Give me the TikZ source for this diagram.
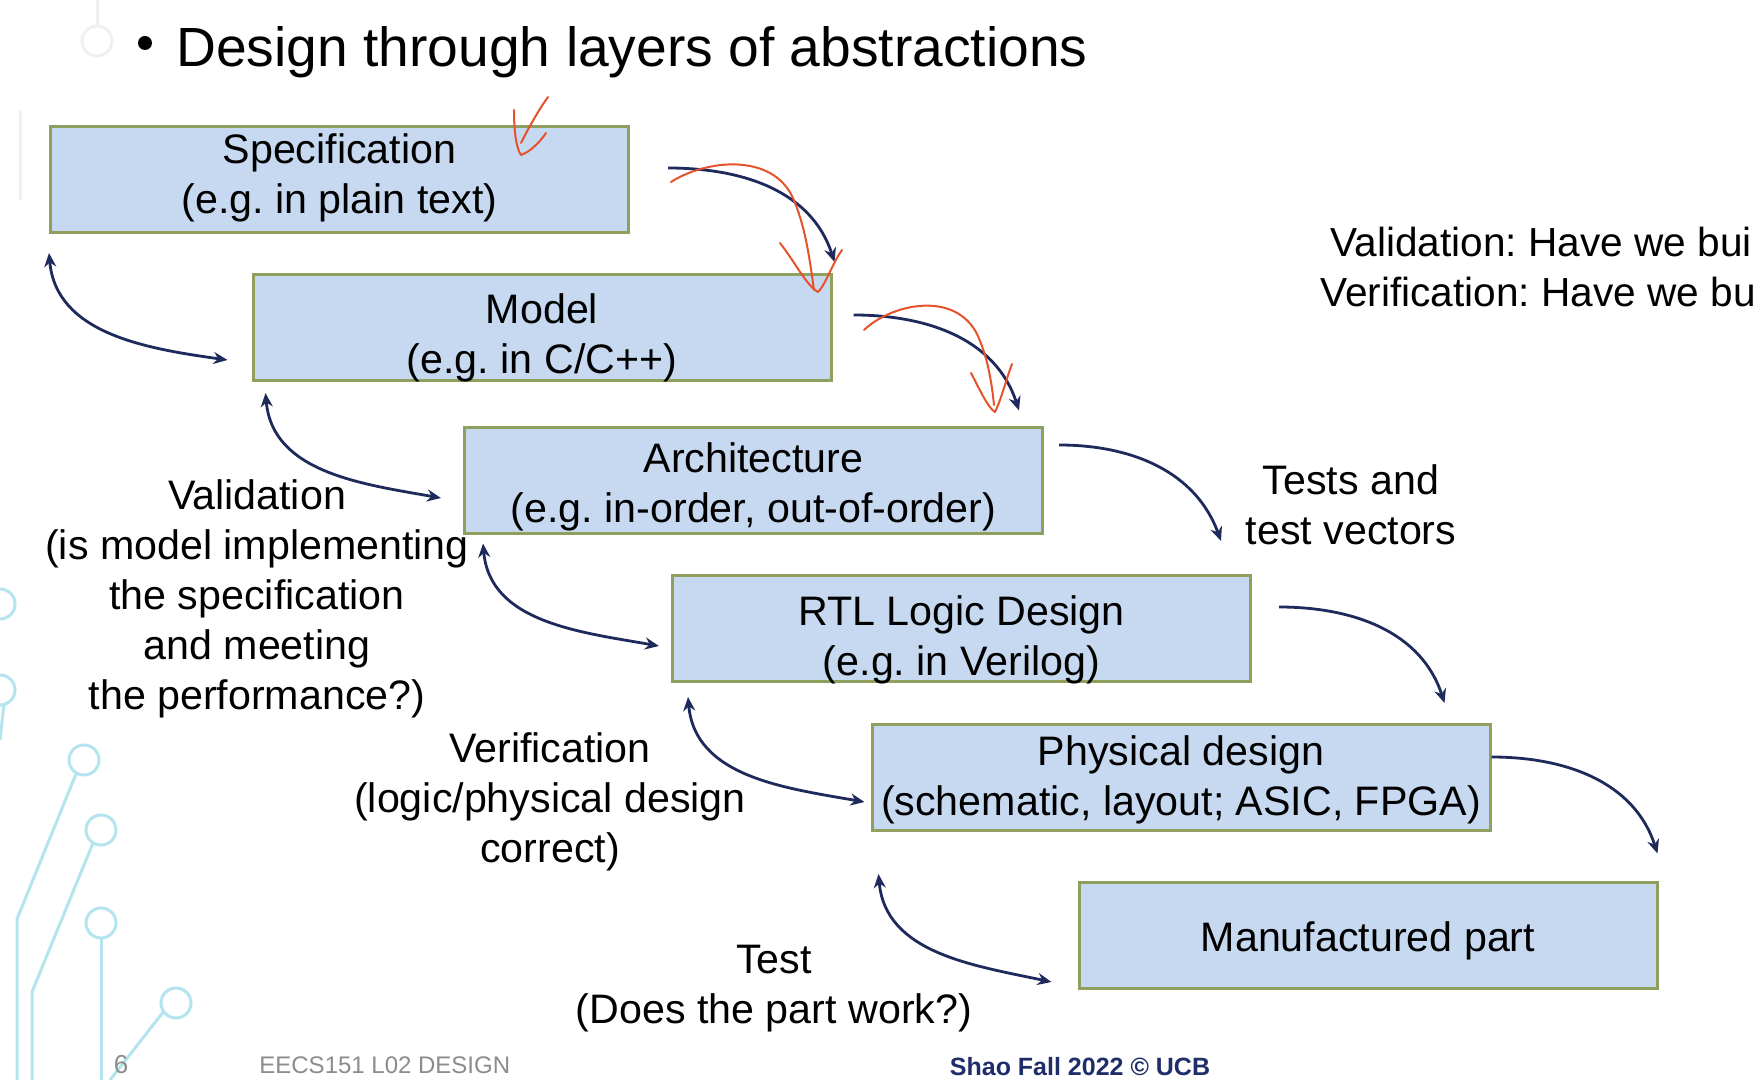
\documentclass[tikz,border=0pt]{standalone}
\usepackage{fontspec}
\setmainfont{Liberation Sans}
\usetikzlibrary{arrows.meta,calc}
\definecolor{boxfill}{HTML}{C6D9F1}
\definecolor{boxline}{HTML}{8E9F5E}
\definecolor{navy}{HTML}{1F2A5C}
\definecolor{deco}{HTML}{B4E4EE}
\definecolor{redink}{HTML}{E5522B}
\definecolor{footgray}{HTML}{8C8C8C}
\definecolor{footnavy}{HTML}{1F2D6B}
\frenchspacing
\begin{document}
\frenchspacing
\begin{tikzpicture}[x=0.5pt,y=-0.5pt,
  stagebox/.style={draw=boxline, line width=1.5pt, fill=boxfill, minimum width=289pt, minimum height=53pt, inner sep=0pt},
  lbl/.style={align=center, inner sep=0pt, font=\fontsize{20.6}{25}\selectfont},
  flow/.style={draw=navy, line width=1.4pt, -{Stealth[length=7pt,width=6pt]}},
  both/.style={draw=navy, line width=1.4pt, {Stealth[length=7pt,width=6pt]}-{Stealth[length=7pt,width=6pt]}},
  ink/.style={draw=redink, line width=1pt, line cap=round, line join=round},
  decoline/.style={draw=deco, line width=1.5pt},
  faint/.style={draw=black!6, line width=1.5pt}]
\useasboundingbox (0,0) rectangle (1753,1080);
\clip (0,0) rectangle (1753,1080);
\fill[white] (0,0) rectangle (1753,1080);

% background decoration
\draw[faint] (97,41) circle[radius=7.5pt];
\draw[faint] (97,0) -- (97,26);
\draw[faint] (20,110) -- (20,200);
\draw[decoline] (84,760) circle[radius=7.5pt];
\draw[decoline] (101,830) circle[radius=7.5pt];
\draw[decoline] (101,923) circle[radius=7.5pt];
\draw[decoline] (176,1003) circle[radius=7.5pt];
\draw[decoline] (0,604) circle[radius=7.5pt];
\draw[decoline] (0,690) circle[radius=7.5pt];
\draw[decoline] (76,774) -- (17,919) -- (17,1080);
\draw[decoline] (93,843) -- (32,992) -- (32,1080);
\draw[decoline] (101,938) -- (101,1080);
\draw[decoline] (164,1011) -- (110,1080);
\draw[decoline] (4,704) -- (0,740);

% title
\node[circle, fill=black, inner sep=0pt, minimum size=7pt] (bullet) at (145,43) {};
\node[anchor=base west, inner sep=0pt, font=\fontsize{27.6}{33}\selectfont] (title) at (176,67) {Design through layers of abstractions};

% stages
\node[stagebox] (spec) at (339.5,179.5) {};
\node[lbl] (spect) at ([shift={(0,-2)}]spec.center) {Specification\\(e.g. in plain text)};
\node[stagebox] (model) at (542,327.5) {};
\node[lbl] (modelt) at ([shift={(0,10)}]model.center) {Model\\(e.g. in C/C++)};
\node[stagebox] (arch) at (753.5,481) {};
\node[lbl] (archt) at ([shift={(0,6)}]arch.center) {Architecture\\(e.g. in-order, out-of-order)};
\node[stagebox] (rtl) at (961.5,628.5) {};
\node[lbl] (rtlt) at ([shift={(0,11)}]rtl.center) {RTL Logic Design\\(e.g. in Verilog)};
\node[stagebox, minimum width=309pt] (phys) at (1181,777.5) {};
\node[lbl] (physt) at ([shift={(0,2)}]phys.center) {Physical design\\(schematic, layout; ASIC, FPGA)};
\node[stagebox] (manu) at (1368,935) {};
\node[lbl] (manut) at ([shift={(0,6)}]manu.center) {Manufactured part};

% labels
\node[lbl] (valid) at (257,599) {Validation\\(is model implementing\\the specification\\and meeting\\the performance?)};
\node[lbl] (verif) at (550,802) {Verification\\(logic/physical design\\correct)};
\node[lbl] (testl) at (774,989) {Test\\(Does the part work?)};
\node[lbl] (tv) at (1351,505) {Tests and\\test vectors};
\node[anchor=base west, inner sep=0pt, font=\fontsize{20.3}{24}\selectfont] (valq) at (1330,257) {Validation: Have we bui};
\node[anchor=base west, inner sep=0pt, font=\fontsize{20.3}{24}\selectfont] (verq) at (1320,307) {Verification: Have we bu};

% forward arrows
\draw[flow] ([shift={(38,-11.5)}]spec.east) to[out=0,in=108] ([shift={(2,-11)}]model.north east);
\draw[flow] ([shift={(21,-12.5)}]model.east) to[out=0,in=108] ([shift={(-25,-16)}]arch.north east);
\draw[flow] ([shift={(15,-36)}]arch.east) to[out=0,in=110] ([shift={(-31,-33)}]rtl.north east);
\draw[flow] ([shift={(27,-21.5)}]rtl.east) to[out=0,in=108] ([shift={(-47,-20)}]phys.north east);
\draw[flow] ([shift={(0,-20.5)}]phys.east) to[out=0,in=108] ([shift={(-1,-27)}]manu.north east);

% feedback arrows
\draw[both] ([shift={(0,19)}]spec.south west) to[out=-85,in=172] ([shift={(-24,32.5)}]model.west);
\draw[both] ([shift={(14,11)}]model.south west) to[out=-85,in=170] ([shift={(-22,17)}]arch.west);
\draw[both] ([shift={(20,8)}]arch.south west) to[out=-85,in=170] ([shift={(-12,17.5)}]rtl.west);
\draw[both] ([shift={(17,14)}]rtl.south west) to[out=-85,in=170] ([shift={(-6,24.5)}]phys.west);
\draw[both] ([shift={(8,42)}]phys.south west) to[out=-85,in=168] ([shift={(-26,47)}]manu.west);

% red hand-drawn marks
\draw[ink] (514,110) .. controls (514,130) and (516,148) .. (521,155) .. controls (530,152) and (540,142) .. (546,133);
\draw[ink] (521,143) .. controls (530,125) and (540,108) .. (548,97);
\draw[ink] (671,182) .. controls (705,160) and (772,152) .. (793,198) .. controls (806,228) and (810,262) .. (814,290);
\draw[ink] (780,243) .. controls (795,262) and (806,285) .. (818,292) .. controls (826,284) and (832,264) .. (842,250);
\draw[ink] (864,330) .. controls (890,305) and (952,290) .. (976,332) .. controls (988,356) and (992,385) .. (994,405);
\draw[ink] (971,373) .. controls (980,390) and (988,408) .. (995,412) .. controls (1001,400) and (1006,380) .. (1012,364);

% footer
\node[text=footgray, inner sep=0pt, font=\fontsize{13}{15}\selectfont] (pgno) at (121,1065) {6};
\node[anchor=west, inner sep=0pt, text=footgray, font=\fontsize{12}{14}\selectfont] (course) at (259,1065) {EECS151 L02 DESIGN};
\node[inner sep=0pt, text=footnavy, font=\bfseries\fontsize{12.5}{15}\selectfont] (credit) at (1080,1067) {Shao Fall 2022 © UCB};
\end{tikzpicture}
\end{document}
